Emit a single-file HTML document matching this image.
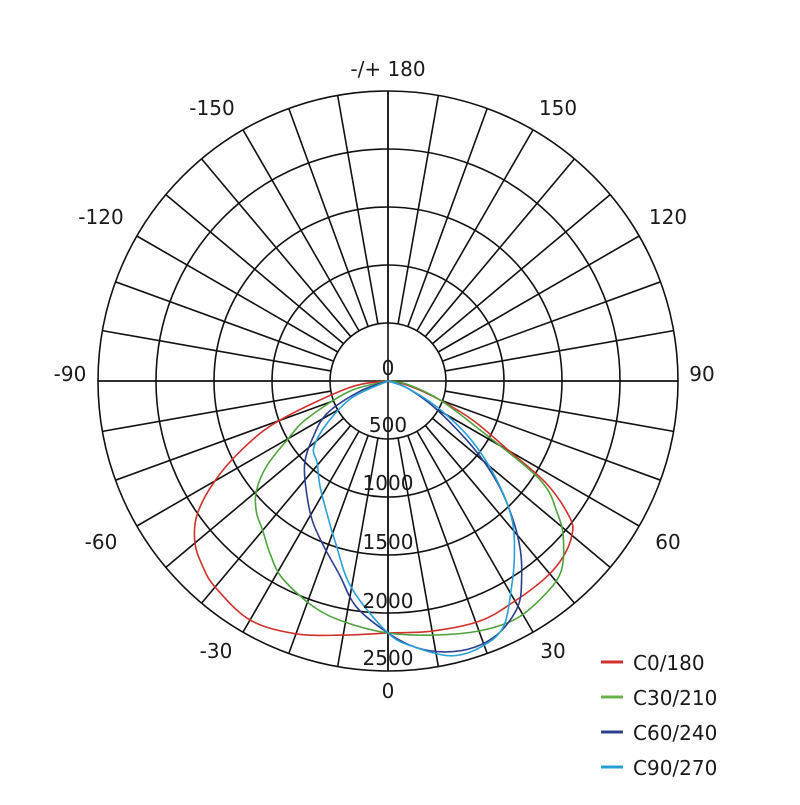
<!DOCTYPE html>
<html><head><meta charset="utf-8"><style>
body{margin:0;background:#fff}
svg text{font-family:"DejaVu Sans","Liberation Sans",sans-serif;font-size:20px;fill:#1a1a1a}
</style></head><body>
<svg id="s" width="800" height="800" viewBox="0 0 800 800" xmlns="http://www.w3.org/2000/svg">
<rect width="800" height="800" fill="#fff"/>
<g id="grid" stroke="#111" stroke-width="1.6" fill="none"></g>
<g id="curves" fill="none" stroke-width="1.6"></g>
<g text-anchor="middle">
<text x="388" y="76">-/+ 180</text>
<text x="558" y="115">150</text>
<text x="212" y="115">-150</text>
<text x="668" y="224">120</text>
<text x="101" y="224">-120</text>
<text x="702" y="381">90</text>
<text x="70" y="381">-90</text>
<text x="668" y="549">60</text>
<text x="101" y="549">-60</text>
<text x="553" y="658">30</text>
<text x="216" y="658">-30</text>
<text x="388" y="698">0</text>
<text x="388" y="375">0</text>
<text x="388" y="432">500</text>
<text x="388" y="490">1000</text>
<text x="388" y="549">1500</text>
<text x="388" y="608">2000</text>
<text x="388" y="665">2500</text>
</g>
<g stroke-width="3">
<line x1="601" y1="662" x2="623" y2="662" stroke="#d0312d"/>
<line x1="601" y1="697" x2="623" y2="697" stroke="#6ab04c"/>
<line x1="601" y1="732" x2="623" y2="732" stroke="#2b3f8f"/>
<line x1="601" y1="767" x2="623" y2="767" stroke="#2a9fd8"/>
</g>
<text x="633" y="670">C0/180</text>
<text x="633" y="705">C30/210</text>
<text x="633" y="740">C60/240</text>
<text x="633" y="775">C90/270</text>
</svg>
<script>
var cx=388,cy=381,R=290,st=58;
var g=document.getElementById('grid'),h='';
for(var i=1;i<=5;i++)h+='<circle cx="'+cx+'" cy="'+cy+'" r="'+(i*st)+'"/>';
for(var a=0;a<360;a+=10){var t=a*Math.PI/180,s=Math.sin(t),c=Math.cos(t);
h+='<line x1="'+(cx+st*s)+'" y1="'+(cy+st*c)+'" x2="'+(cx+R*s)+'" y2="'+(cy+R*c)+'"/>';}
h+='<line x1="'+(cx-R)+'" y1="'+cy+'" x2="'+(cx+R)+'" y2="'+cy+'"/><line x1="'+cx+'" y1="'+(cy-R)+'" x2="'+cx+'" y2="'+(cy+R)+'"/>';
g.innerHTML=h;
function path(pts){var P=pts.map(function(p){var t=p[0]*Math.PI/180;return [cx+p[1]*Math.sin(t),cy+p[1]*Math.cos(t)]});
var d='M'+P[0][0].toFixed(1)+','+P[0][1].toFixed(1);
for(var i=0;i<P.length-1;i++){var p0=P[Math.max(i-1,0)],p1=P[i],p2=P[i+1],p3=P[Math.min(i+2,P.length-1)];
d+='C'+(p1[0]+(p2[0]-p0[0])/6).toFixed(1)+','+(p1[1]+(p2[1]-p0[1])/6).toFixed(1)+' '+(p2[0]-(p3[0]-p1[0])/6).toFixed(1)+','+(p2[1]-(p3[1]-p1[1])/6).toFixed(1)+' '+p2[0].toFixed(1)+','+p2[1].toFixed(1);}
return d;}
var C=[
['#d0312d',[[-90,0],[-80,40],[-70,116],[-65,160],[-60,200],[-55,233],[-50,252],[-45,262],[-40,269],[-30,276],[-20,269],[-10,258],[0,252],[10,254],[21,257],[30,254],[39,252],[45,248],[50,240],[53,228],[57,190],[60,140],[65,95],[70,55],[78,20],[90,0]]],
['#4fa33f',[[-90,0],[-75,40],[-65,90],[-60,115],[-55,148],[-50,172],[-45,186],[-40,195],[-34,210],[-28,224],[-18,238],[-10,245],[0,252],[10,258],[20,266],[28,270],[35,266],[42,258],[48,236],[52,215],[57,181],[62,104],[70,55],[80,20],[90,0]]],
['#2b3f8f',[[-90,0],[-70,30],[-62,69],[-53,94],[-45,118],[-35,141],[-28,160],[-21,178],[-14,200],[-8,228],[0,252],[6,268],[12,277],[18,280],[24,275],[30,260],[34,239],[38,215],[42,187],[47,150],[52,108],[60,55],[70,20],[90,0]]],
['#2a9fd8',[[-90,0],[-65,40],[-55,75],[-48,100],[-41,108],[-33,125],[-25,145],[-18,170],[-10,210],[0,252],[6,268],[13,282],[19,282],[25,272],[31,240],[36,215],[42,185],[48,145],[55,100],[62,55],[70,20],[90,0]]]];
var cg=document.getElementById('curves'),ch='';
C.forEach(function(c){ch+='<path stroke="'+c[0]+'" d="'+path(c[1])+'"/>';});
cg.innerHTML=ch;
</script>
</body></html>
